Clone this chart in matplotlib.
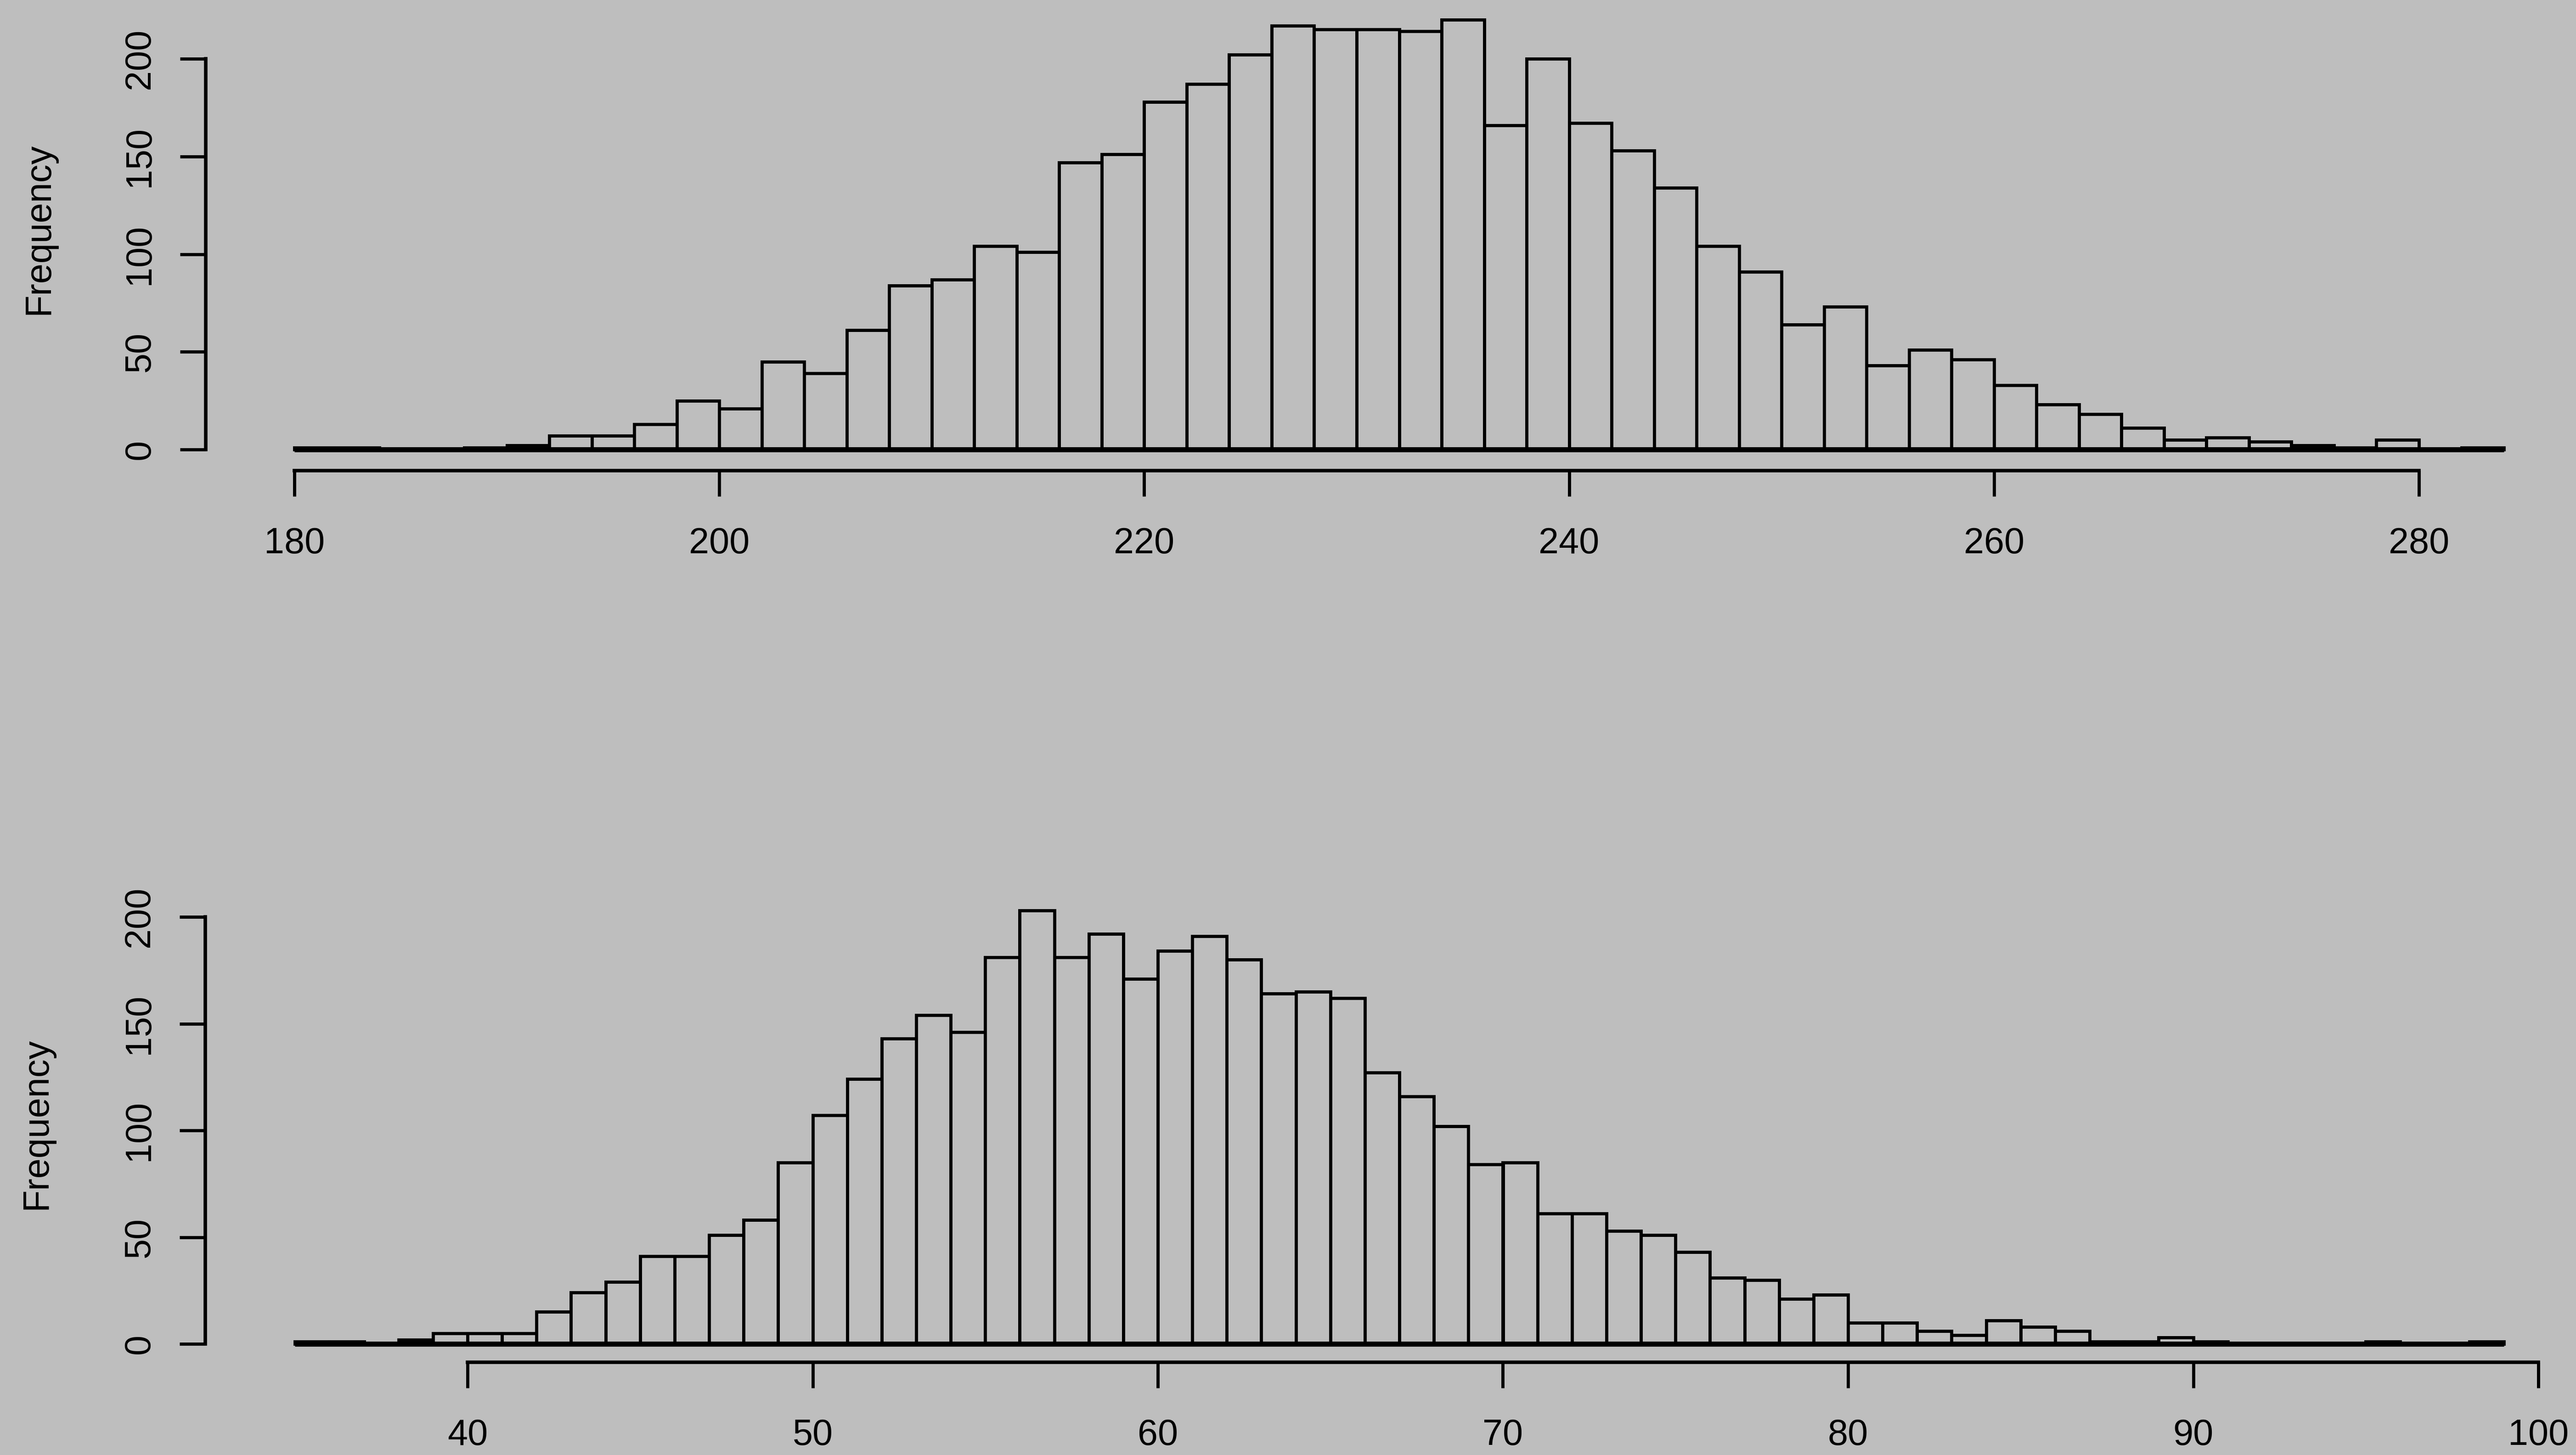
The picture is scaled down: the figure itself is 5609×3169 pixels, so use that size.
import numpy as np
import matplotlib
matplotlib.use("Agg")
import matplotlib.pyplot as plt

# ---------------------------
# data
# ---------------------------
top_start, top_binw = 180, 2
top_counts = [1, 1, 0, 0, 1, 2, 7, 7, 13, 25,
              21, 45, 39, 61, 84, 87, 104, 101, 147, 151,
              178, 187, 202, 217, 215, 215, 214, 220, 166, 200,
              167, 153, 134, 104, 91, 64, 73, 43, 51, 46,
              33, 23, 18, 11, 5, 6, 4, 2, 1, 5,
              0, 1]
top_xticks = [180, 200, 220, 240, 260, 280]

bot_start, bot_binw = 35, 1
bot_counts = [1, 1, 0, 2, 5, 5, 5, 15, 24, 29,
              41, 41, 51, 58, 85, 107, 124, 143, 154, 146,
              181, 203, 181, 192, 171, 184, 191, 180, 164, 165,
              162, 127, 116, 102, 84, 85, 61, 61, 53, 51,
              43, 31, 30, 21, 23, 10, 10, 6, 4, 11,
              8, 6, 1, 1, 3, 1, 0, 0, 0, 0,
              1, 0, 0, 1]
bot_xticks = [40, 50, 60, 70, 80, 90, 100]

yticks = [0, 50, 100, 150, 200]

# ---------------------------
# style
# ---------------------------
BG = "#bebebe"
LW = 5
FS = 57
plt.rcParams['font.family'] = ['Liberation Sans', 'DejaVu Sans']

W, H = 5609, 3169
fig = plt.figure(figsize=(W / 100, H / 100), dpi=100, facecolor=BG)


def px_axes(left, right, top, bottom):
    return fig.add_axes([left / W, 1 - bottom / H, (right - left) / W, (bottom - top) / H])


def r_hist(ax, start, binw, counts, xticks, xlim, ylim):
    counts = np.array(counts)
    edges = start + binw * np.arange(len(counts))
    ax.bar(edges, counts, width=binw, align='edge', facecolor='none',
           edgecolor='black', linewidth=LW)
    # empty bins still show as a line on the baseline, like R's hist
    ax.hlines(0, edges[0], edges[-1] + binw, colors='black', lw=LW * 1.6,
              zorder=3)
    ax.set_xlim(*xlim)
    ax.set_ylim(*ylim)
    ax.set_facecolor('none')
    for s in ('top', 'right'):
        ax.spines[s].set_visible(False)
    for s in ('left', 'bottom'):
        ax.spines[s].set_linewidth(LW + 0.5)
    ax.spines['left'].set_bounds(yticks[0], yticks[-1])
    ax.spines['bottom'].set_bounds(xticks[0], xticks[-1])
    ax.set_xticks(xticks, [str(t) for t in xticks], fontsize=FS)
    ax.set_yticks(yticks, [str(t) for t in yticks], fontsize=FS,
                  rotation=90, va='center')
    ax.tick_params(axis='both', direction='out', length=40, width=LW)
    ax.tick_params(axis='x', pad=48)
    ax.tick_params(axis='y', pad=36)


# top histogram
ax1 = px_axes(448, 5560, 20, 1025)
r_hist(ax1, top_start, top_binw, top_counts, top_xticks,
       (180 - (641 - 448) / 46.26, 280 + (5560 - 5267) / 46.26),
       (-(1025 - 979) / 4.255, (979 - 20) / 4.255))
fig.text(85 / W, 1 - 498 / H, "Frequency", rotation=90, fontsize=FS,
         ha='center', va='center')

# bottom histogram
ax2 = px_axes(447, 5560, 1881, 2967)
r_hist(ax2, bot_start, bot_binw, bot_counts, bot_xticks,
       (40 - (1018 - 447) / 75.15, 100 + (5560 - 5527) / 75.15),
       (-(2967 - 2927) / 4.65, (2927 - 1881) / 4.65))
fig.text(80 / W, 1 - 2447 / H, "Frequency", rotation=90, fontsize=FS,
         ha='center', va='center')

fig.savefig("out.png", dpi=100, facecolor=BG)
